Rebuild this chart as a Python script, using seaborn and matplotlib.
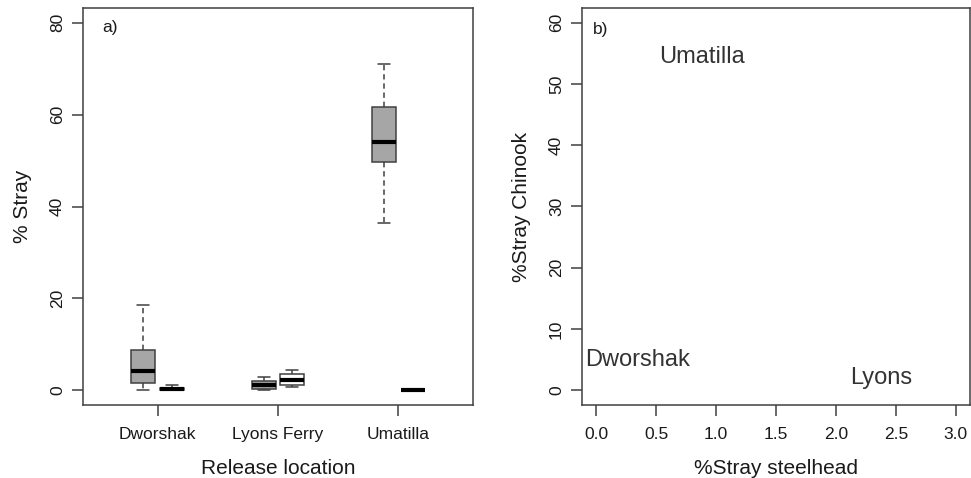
import numpy as np
import pandas as pd
import matplotlib
matplotlib.use("Agg")
import matplotlib.pyplot as plt
import seaborn as sns

# five-number summaries (min, q1, median, q3, max)
locations = ["Dworshak", "Lyons Ferry", "Umatilla"]
chinook_stats = [[0.0, 1.5, 4.1, 8.7, 18.5],
                 [0.0, 0.2, 1.1, 2.0, 2.8],
                 [36.5, 49.6, 54.1, 61.7, 71.0]]
steelhead_stats = [[0.0, 0.05, 0.25, 0.55, 1.25],
                   [0.8, 1.2, 2.2, 3.5, 4.5],
                   [0.0, 0.0, 0.0, 0.0, 0.0]]

# panel b) text labels: x = % stray steelhead, y = % stray Chinook
label_names = ["Dworshak", "Lyons", "Umatilla"]
label_steelhead = [0.34, 2.38, 0.885]
label_chinook = [3.9, 1.1, 53.4]

left_yticks = [0, 20, 40, 60, 80]
right_xticks = [0.0, 0.5, 1.0, 1.5, 2.0, 2.5, 3.0]
right_yticks = [0, 10, 20, 30, 40, 50, 60]

rows = []
for loc, ch, st in zip(locations, chinook_stats, steelhead_stats):
    for v in ch:
        rows.append((loc, "Chinook", v))
    for v in st:
        rows.append((loc, "Steelhead", v))
df = pd.DataFrame(rows, columns=["location", "species", "stray"])

sns.set_style("white")
plt.rcParams["font.family"] = ["Liberation Sans", "DejaVu Sans"]

edge = "#404040"
fig = plt.figure(figsize=(9.71, 4.78), dpi=100)
ax1 = fig.add_axes([83 / 971, 73 / 478, 390 / 971, 397 / 478])
ax2 = fig.add_axes([582 / 971, 73 / 478, 388 / 971, 397 / 478])

sns.boxplot(data=df, x="location", y="stray", hue="species",
            palette=["#a6a6a6", "white"], width=0.48, gap=0.17,
            linecolor=edge, linewidth=1.1, whis=1.5, fliersize=0,
            medianprops=dict(color="black", linewidth=3),
            whiskerprops=dict(linestyle=(0, (3.5, 2.5))),
            legend=False, ax=ax1)
ax1.set_xlim(-0.62, 2.62)
ax1.set_ylim(-3.2, 83.2)
ax1.set_yticks(left_yticks)
ax1.set_xlabel("Release location", fontsize=15, labelpad=12)
ax1.set_ylabel("% Stray", fontsize=15, labelpad=13)
ax1.text(0.049, 0.95, "a)", transform=ax1.transAxes, fontsize=12.5,
         va="center", ha="left", color="#1a1a1a")

for name, x, y in zip(label_names, label_steelhead, label_chinook):
    ax2.text(x, y, name, fontsize=17, ha="center", va="baseline", color="#333333")
ax2.set_xlim(-0.12, 3.12)
ax2.set_ylim(-2.4, 62.4)
ax2.set_xticks(right_xticks)
ax2.set_xticklabels([f"{t:.1f}" for t in right_xticks])
ax2.set_yticks(right_yticks)
ax2.set_xlabel("%Stray steelhead", fontsize=15, labelpad=12)
ax2.set_ylabel("%Stray Chinook", fontsize=15, labelpad=13)
ax2.text(0.028, 0.945, "b)", transform=ax2.transAxes, fontsize=12.5,
         va="center", ha="left", color="#1a1a1a")

for ax in (ax1, ax2):
    for sp in ax.spines.values():
        sp.set_visible(True)
        sp.set_color(edge)
        sp.set_linewidth(1.1)
    ax.tick_params(axis="both", direction="out", length=8, width=1.1,
                   color=edge, labelsize=12.5, labelcolor="#1a1a1a",
                   left=True, bottom=True)
    ax.tick_params(axis="x", pad=8)
    ax.tick_params(axis="y", pad=5)
    for lab in ax.get_yticklabels():
        lab.set_rotation(90)
        lab.set_va("center")
    ax.xaxis.label.set_color("#1a1a1a")
    ax.yaxis.label.set_color("#1a1a1a")

fig.savefig("out.png", dpi=100)
